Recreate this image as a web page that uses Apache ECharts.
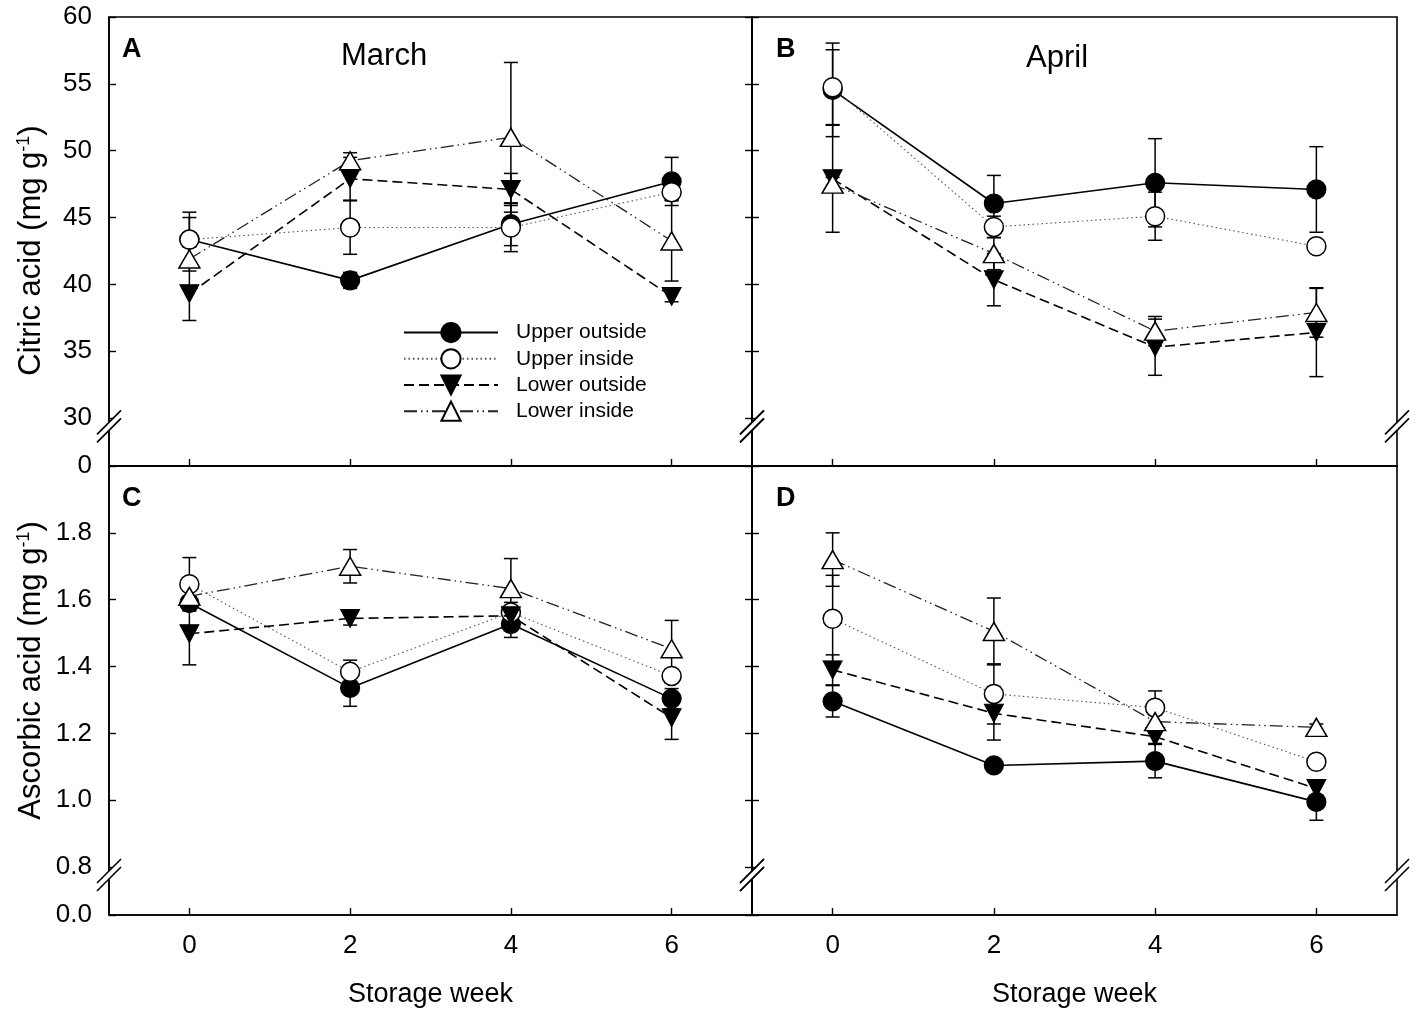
<!DOCTYPE html>
<html>
<head>
<meta charset="utf-8">
<script src="https://cdn.jsdelivr.net/npm/echarts@6/dist/echarts.min.js"></script>
<style>
html,body{margin:0;padding:0;background:#fff;}
#chart{width:1417px;height:1015px;}
</style>
</head>
<body>
<div id="chart"></div>
<script>
// ---------- DATA ----------
const weeks = [0, 2, 4, 6];
const groupNames = ['Upper outside', 'Upper inside', 'Lower outside', 'Lower inside'];
const citricTicks = [0, 30, 35, 40, 45, 50, 55, 60];
const ascorbicTicks = [0, 0.8, 1.0, 1.2, 1.4, 1.6, 1.8];

// Panel A: citric acid, March
const marchCitricUO = [43.35, 40.3, 44.5, 47.7];
const marchCitricUOErr = [2.05, 0.6, 1.6, 1.8];
const marchCitricUI = [43.35, 44.25, 44.25, 46.9];
const marchCitricUIErr = [1.65, 2.0, 1.8, 0.6];
const marchCitricLO = [39.3, 47.9, 47.1, 39.1];
const marchCitricLOErr = [2.0, 1.6, 1.2, 0.4];
const marchCitricLI = [41.9, 49.25, 51.0, 43.25];
const marchCitricLIErr = [0.9, 0.6, 5.6, 3.0];

// Panel B: citric acid, April
const aprilCitricUO = [54.55, 46.05, 47.6, 47.1];
const aprilCitricUOErr = [3.5, 2.1, 3.3, 3.2];
const aprilCitricUI = [54.75, 44.3, 45.1, 42.85];
const aprilCitricUIErr = [2.8, 0.8, 1.8, 0.3];
const aprilCitricLO = [47.9, 40.35, 35.3, 36.4];
const aprilCitricLOErr = [4.0, 1.95, 2.1, 3.3];
const aprilCitricLI = [47.5, 42.3, 36.5, 37.9];
const aprilCitricLIErr = [0.5, 1.2, 1.1, 1.85];

// Panel C: ascorbic acid, March
const marchAscorbicUO = [1.59, 1.336, 1.527, 1.304];
const marchAscorbicUOErr = [0.02, 0.055, 0.04, 0.03];
const marchAscorbicUI = [1.646, 1.384, 1.562, 1.372];
const marchAscorbicUIErr = [0.08, 0.035, 0.03, 0.02];
const marchAscorbicLO = [1.498, 1.544, 1.552, 1.247];
const marchAscorbicLOErr = [0.093, 0.02, 0.03, 0.065];
const marchAscorbicLI = [1.61, 1.70, 1.633, 1.453];
const marchAscorbicLIErr = [0.02, 0.05, 0.09, 0.085];

// Panel D: ascorbic acid, April
const aprilAscorbicUO = [1.296, 1.104, 1.117, 0.995];
const aprilAscorbicUOErr = [0.047, 0.01, 0.05, 0.055];
const aprilAscorbicUI = [1.543, 1.318, 1.277, 1.115];
const aprilAscorbicUIErr = [0.13, 0.09, 0.05, 0.01];
const aprilAscorbicLO = [1.39, 1.26, 1.19, 1.035];
const aprilAscorbicLOErr = [0.045, 0.08, 0.02, 0.02];
const aprilAscorbicLI = [1.72, 1.505, 1.235, 1.218];
const aprilAscorbicLIErr = [0.08, 0.1, 0.02, 0.01];

// ---------- BUILD ----------
const FONT = 'Liberation Sans, Arial, sans-serif';
const panels = [
  { means: [marchCitricUO, marchCitricUI, marchCitricLO, marchCitricLI],
    errs: [marchCitricUOErr, marchCitricUIErr, marchCitricLOErr, marchCitricLIErr], yAxis: 0 },
  { means: [aprilCitricUO, aprilCitricUI, aprilCitricLO, aprilCitricLI],
    errs: [aprilCitricUOErr, aprilCitricUIErr, aprilCitricLOErr, aprilCitricLIErr], yAxis: 2 },
  { means: [marchAscorbicUO, marchAscorbicUI, marchAscorbicLO, marchAscorbicLI],
    errs: [marchAscorbicUOErr, marchAscorbicUIErr, marchAscorbicLOErr, marchAscorbicLIErr], yAxis: 3 },
  { means: [aprilAscorbicUO, aprilAscorbicUI, aprilAscorbicLO, aprilAscorbicLI],
    errs: [aprilAscorbicUOErr, aprilAscorbicUIErr, aprilAscorbicLOErr, aprilAscorbicLIErr], yAxis: 5 }
];

const styles = [
  { symbol: 'circle', symbolSize: 19, item: { color: '#000', borderColor: '#000', borderWidth: 1.2 },
    line: { color: '#000', width: 1.6, type: 'solid' } },
  { symbol: 'circle', symbolSize: 19, item: { color: '#fff', borderColor: '#000', borderWidth: 1.5 },
    line: { color: '#555', width: 1.1, type: [1.5, 3] } },
  { symbol: 'path://M0,0L20,0L10,18Z', symbolSize: [19, 18], item: { color: '#000', borderColor: '#000', borderWidth: 1 },
    line: { color: '#000', width: 1.6, type: [10, 5] } },
  { symbol: 'triangle', symbolSize: [21, 18], item: { color: '#fff', borderColor: '#000', borderWidth: 1.5 },
    line: { color: '#222', width: 1.3, type: [13, 4, 1.5, 4, 1.5, 4] } }
];

const grids = [
  { left: 109, top: 17, width: 643, height: 449 },
  { left: 752, top: 17, width: 645, height: 449 },
  { left: 109, top: 466, width: 643, height: 449 },
  { left: 752, top: 466, width: 645, height: 449 }
].map(g => Object.assign(g, { show: true, borderColor: '#000', borderWidth: 1.6, backgroundColor: 'transparent' }));

const axisLineStyle = { show: true, onZero: false, lineStyle: { color: '#000', width: 1.6 } };

const xAxes = [0, 1, 2, 3].map(i => ({
  type: 'value', gridIndex: i, min: -1, max: 7,
  axisLine: axisLineStyle,
  splitLine: { show: false },
  axisTick: { show: true, inside: true, length: 7, customValues: weeks, lineStyle: { color: '#000', width: 1.4 } },
  axisLabel: { show: i >= 2, customValues: weeks, margin: 18, fontSize: 26, color: '#000', fontFamily: FONT },
  name: i >= 2 ? 'Storage week' : '',
  nameLocation: 'middle', nameGap: 66,
  nameTextStyle: { fontSize: 27, color: '#000', fontFamily: FONT }
}));

const citricBreak = [{ start: 2.58, end: 29.6, gap: '1.8%' }];
const ascorbicBreak = [{ start: 0.111, end: 0.785, gap: '1.3%' }];

function yAx(gridIndex, kind, position, labels) {
  const citric = kind === 'citric';
  const ticks = citric ? citricTicks : ascorbicTicks;
  const ax = {
    type: 'value', gridIndex, position,
    min: 0, max: citric ? 60 : 2.0,
    breaks: citric ? citricBreak : ascorbicBreak,
    breakArea: { show: false },
    axisLine: axisLineStyle,
    splitLine: { show: false },
    axisTick: { show: true, inside: true, length: 7, customValues: ticks, lineStyle: { color: '#000', width: 1.4 } },
    axisLabel: {
      show: labels, customValues: ticks, margin: 17, fontSize: 26, color: '#000', fontFamily: FONT,
      formatter: v => citric ? String(Math.round(v)) : Number(v).toFixed(1)
    }
  };
  if (labels) {
    ax.name = citric ? '{a|Citric acid (mg g}{s|-1}{a|)}' : '{a|Ascorbic acid (mg g}{s|-1}{a|)}';
    ax.nameLocation = 'middle';
    ax.nameGap = 62;
    ax.nameTextStyle = {
      color: '#000', fontFamily: FONT,
      padding: citric ? [0, 18, 0, 0] : [0, 0, 0, 40],
      rich: {
        a: { fontSize: 31, fontFamily: FONT, color: '#000', lineHeight: 32 },
        s: { fontSize: 18, fontFamily: FONT, color: '#000', verticalAlign: 'top', lineHeight: 18 }
      }
    };
  }
  return ax;
}

const yAxes = [
  yAx(0, 'citric', 'left', true),
  yAx(0, 'citric', 'right', false),
  yAx(1, 'citric', 'left', false),
  yAx(2, 'ascorbic', 'left', true),
  yAx(2, 'ascorbic', 'right', false),
  yAx(3, 'ascorbic', 'left', false)
];

const series = [];
panels.forEach((p, pi) => {
  p.means.forEach((m, si) => {
    const e = p.errs[si];
    series.push({
      type: 'custom', xAxisIndex: pi, yAxisIndex: p.yAxis, z: 1, silent: true, clip: false,
      data: weeks.map((w, i) => [w, m[i] - e[i], m[i] + e[i]]),
      encode: { x: 0, y: [1, 2] },
      renderItem: function (params, api) {
        const x = api.value(0);
        const a = api.coord([x, api.value(1)]);
        const b = api.coord([x, api.value(2)]);
        const w = 7;
        const st = { stroke: '#000', lineWidth: 1.5 };
        return { type: 'group', children: [
          { type: 'line', shape: { x1: a[0], y1: a[1], x2: b[0], y2: b[1] }, style: st },
          { type: 'line', shape: { x1: a[0] - w, y1: a[1], x2: a[0] + w, y2: a[1] }, style: st },
          { type: 'line', shape: { x1: b[0] - w, y1: b[1], x2: b[0] + w, y2: b[1] }, style: st }
        ] };
      }
    });
  });
  p.means.forEach((m, si) => {
    const s = styles[si];
    series.push({
      type: 'line', name: groupNames[si], xAxisIndex: pi, yAxisIndex: p.yAxis, z: 3 + si,
      data: weeks.map((w, i) => [w, m[i]]),
      symbol: s.symbol, symbolSize: s.symbolSize, showAllSymbol: true,
      itemStyle: s.item, lineStyle: s.line,
      emphasis: { disabled: true }, animation: false, clip: false
    });
  });
});

const letterStyle = { fontSize: 27, fontWeight: 'bold', color: '#000', fontFamily: FONT };
const monthStyle = { fontSize: 31, fontWeight: 'normal', color: '#000', fontFamily: FONT };

const option = {
  animation: false,
  backgroundColor: '#fff',
  title: [
    { text: 'A', left: 122, top: 36, textStyle: letterStyle, padding: 0 },
    { text: 'B', left: 776, top: 36, textStyle: letterStyle, padding: 0 },
    { text: 'C', left: 122, top: 485, textStyle: letterStyle, padding: 0 },
    { text: 'D', left: 776, top: 485, textStyle: letterStyle, padding: 0 },
    { text: 'March', left: 341, top: 41, textStyle: monthStyle, padding: 0 },
    { text: 'April', left: 1026, top: 43, textStyle: monthStyle, padding: 0 }
  ],
  legend: {
    data: groupNames, orient: 'vertical', left: 398, top: 317,
    itemWidth: 94, itemHeight: 24, itemGap: 5, selectedMode: false,
    textStyle: { fontSize: 21, color: '#000', fontFamily: FONT, padding: [0, 0, 0, 13] }
  },
  grid: grids,
  xAxis: xAxes,
  yAxis: yAxes,
  series: series
};

const chart = echarts.init(document.getElementById('chart'), null, { renderer: 'canvas' });
chart.setOption(option);

// axis-break marks ("//") on the vertical edges of each panel
function breakMarks() {
  const els = [];
  const spec = [
    { grid: 0, y: 0, brk: citricBreak[0] },
    { grid: 1, y: 2, brk: citricBreak[0] },
    { grid: 2, y: 3, brk: ascorbicBreak[0] },
    { grid: 3, y: 5, brk: ascorbicBreak[0] }
  ];
  spec.forEach(s => {
    [-1, 7].forEach(xv => {
      const hi = chart.convertToPixel({ xAxisIndex: s.grid, yAxisIndex: s.y }, [xv, s.brk.end]);
      const lo = chart.convertToPixel({ xAxisIndex: s.grid, yAxisIndex: s.y }, [xv, s.brk.start]);
      const cx = hi[0];
      const cy = Math.min(hi[1] + 3, (hi[1] + lo[1]) / 2);
      const h = 12, d = 4;
      els.push({
        type: 'polygon', z: 100, silent: true,
        shape: { points: [[cx - h, cy + h - d], [cx + h, cy - h - d], [cx + h, cy - h + d], [cx - h, cy + h + d]] },
        style: { fill: '#fff' }
      });
      els.push({ type: 'line', z: 101, silent: true,
        shape: { x1: cx - h, y1: cy + h - d, x2: cx + h, y2: cy - h - d }, style: { stroke: '#000', lineWidth: 1.6 } });
      els.push({ type: 'line', z: 101, silent: true,
        shape: { x1: cx - h, y1: cy + h + d, x2: cx + h, y2: cy - h + d }, style: { stroke: '#000', lineWidth: 1.6 } });
    });
  });
  chart.setOption({ graphic: els });
}
breakMarks();
</script>
</body>
</html>
